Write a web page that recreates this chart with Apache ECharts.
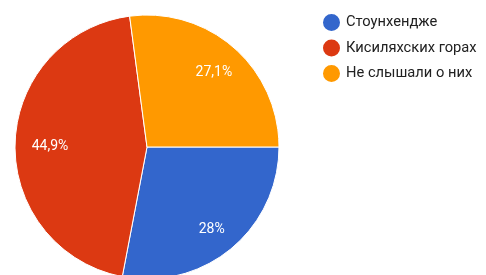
<!DOCTYPE html>
<html>
<head>
<meta charset="utf-8">
<style>
  html, body { margin: 0; padding: 0; background: #fff; }
  #chart { width: 486px; height: 275px; }
</style>
<script src="https://cdn.jsdelivr.net/npm/echarts@6/dist/echarts.min.js"></script>
</head>
<body>
<div id="chart"></div>
<script>
const names = ['Стоунхендже', 'Кисиляхских горах', 'Не слышали о них'];
const values = [28, 44.9, 27.1];
const colors = ['#3366cc', '#dc3912', '#ff9900'];

const slices = names.map((n, i) => ({ name: n, value: values[i], itemStyle: { color: colors[i] } }));
const fmt = p => String(p.value).replace('.', ',') + '%';

const chart = echarts.init(document.getElementById('chart'), null, { renderer: 'canvas' });
chart.setOption({
  animation: false,
  legend: {
    orient: 'vertical',
    left: 316,
    top: 7,
    icon: 'circle',
    itemWidth: 19,
    itemHeight: 19,
    itemGap: 4.5,
    data: names,
    textStyle: { fontFamily: 'Roboto', fontSize: 14.7, color: '#212121' }
  },
  series: [
    {
      type: 'pie',
      center: [147, 147],
      radius: 132,
      startAngle: 0,
      clockwise: true,
      data: slices,
      itemStyle: { borderColor: '#fff', borderWidth: 1 },
      label: { show: false },
      labelLine: { show: false },
      emphasis: { disabled: true }
    },
    {
      type: 'pie',
      center: [147, 147],
      radius: [68, 132],
      startAngle: 0,
      clockwise: true,
      silent: true,
      data: slices.map((s, i) => ({
        name: s.name,
        value: s.value,
        label: { offset: i === 1 ? [6, 2] : [-1, 3] }
      })),
      itemStyle: { color: 'transparent', borderWidth: 0 },
      label: {
        show: true,
        position: 'inside',
        formatter: fmt,
        color: '#fff',
        fontFamily: 'Roboto',
        fontSize: 14
      },
      labelLine: { show: false },
      emphasis: { disabled: true }
    }
  ]
});
</script>
</body>
</html>
